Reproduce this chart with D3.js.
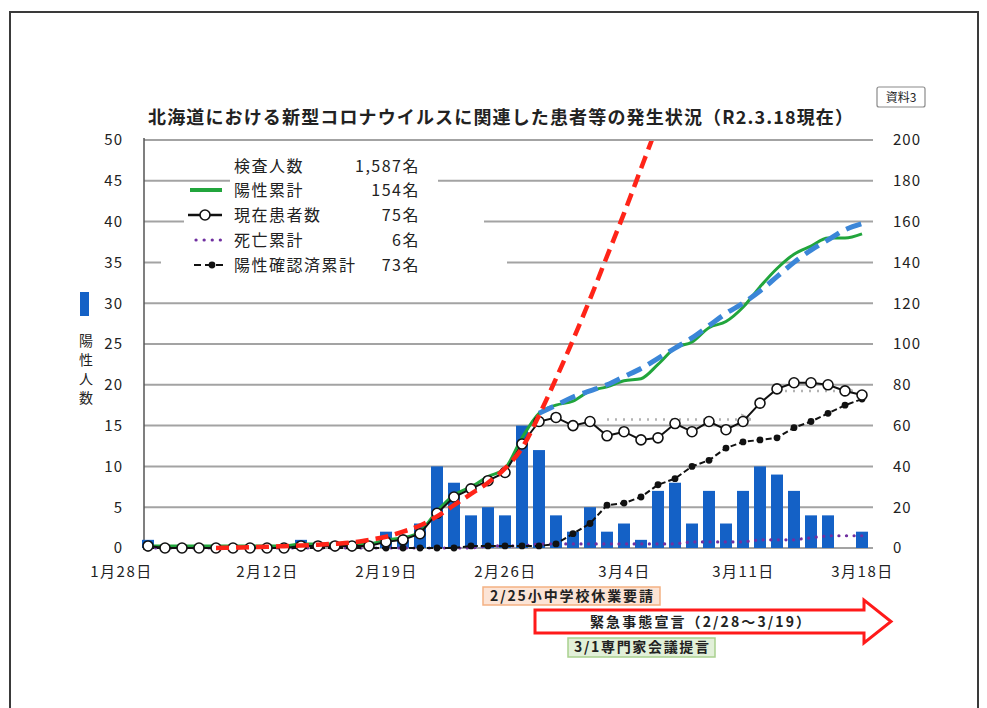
<!DOCTYPE html>
<html><head><meta charset="utf-8">
<script src="https://cdn.jsdelivr.net/npm/d3@7"></script>
<style>
html,body{margin:0;padding:0;background:#fff;}
svg{display:block;font-family:"Noto Sans CJK JP","Noto Sans",sans-serif;}
</style></head><body>
<svg id="c" width="987" height="708"></svg>
<script>
// ---------- data ----------
const dates = ["1/28","2/6","2/7","2/8","2/9","2/10","2/11","2/12","2/13","2/14","2/15","2/16","2/17","2/18",
  "2/19","2/20","2/21","2/22","2/23","2/24","2/25","2/26","2/27","2/28","2/29",
  "3/1","3/2","3/3","3/4","3/5","3/6","3/7","3/8","3/9","3/10","3/11","3/12","3/13","3/14","3/15","3/16","3/17","3/18"];
const tickDates  = ["1/28","2/12","2/19","2/26","3/4","3/11","3/18"];
const tickLabels = ["1月28日","2月12日","2月19日","2月26日","3月4日","3月11日","3月18日"];
// daily new positives (left axis)
const newCases = [1,0,0,0,0,0,0,0,0,1,0,0,0,0, 2,1,3,10,8,4,5, 4,15,12,4,2,5,2, 3,1,7,8,3,7,3, 7,10,9,7,4,4,0,2];
// cumulative positives (right axis)
const cumPositive = [1,1,1,1,1,1,1,1,1,2,2,2,2,2, 4,5,8,18,26,30,35, 39,54,66,70,72,77,79, 82,83,90,98,101,108,111, 118,128,137,144,148,152,152,154];
// current patients (right axis)
const currentPatients = [1,0,0,0,0,0,0,0,0,1,1,1,1,1, 3,4,7,17,25,29,33, 37,51,62,64,60,62,55, 57,53,54,61,57,62,58, 62,71,78,81,81,80,77,75];
// cumulative deaths (right axis)
const deathsCum = [0,0,0,0,0,0,0,0,0,0,0,0,0,0, 0,0,0,0,0,0,1, 1,1,2,2,2,2,2, 2,2,2,2,3,3,3, 3,4,4,4,5,6,6,6];
// cumulative confirmed negative (right axis)
const negConfirmedCum = [0,0,0,0,0,0,0,0,0,0,0,0,0,0, 0,0,0,0,0,1,1, 1,1,1,2,7,12,21, 22,25,31,34,40,43,49, 52,53,54,59,62,66,70,73];
// trend lines (right axis)
const trendRed = [null,null,null,null,0,0.2,0.4,0.6,0.9,1.2,1.6,2.1,2.7,4, 5.5,8,11,15.5,21,26.5,32, 39,49,65,83,102,122,143, 164,186,208,null,null,null,null, null,null,null,null,null,null,null,null];
const trendBlue = [null,null,null,null,null,null,null,null,null,null,null,null,null,null, null,null,null,null,null,null,null, null,null,66,70,74,77,80, 84,88,93,98,103,109,115, 120,126,133,140,146,151,156,159];
const ghostA = [null,null,null,null,null,null,null,null,null,null,null,null,null,null, null,null,null,null,null,null,null, null,null,null,null,null,null,63, 63,63,63,63,63,63,63, 63,null,null,null,null,null,null,null];
const ghostB = [null,null,null,null,null,null,null,null,null,null,null,null,null,null, null,null,null,null,null,null,null, null,null,null,null,null,null,null, null,null,null,null,null,null,null, null,null,77,77,77,77,77,null];
const leftTicks  = [0,5,10,15,20,25,30,35,40,45,50];
const rightTicks = [0,20,40,60,80,100,120,140,160,180,200];
const legendNames  = ["検査人数","陽性累計","現在患者数","死亡累計","陽性確認済累計"];
const legendValues = ["1,587名","154名","75名","6名","73名"];
const titleText = "北海道における新型コロナウイルスに関連した患者等の発生状況（R2.3.18現在）";
const noteSchool = "2/25小中学校休業要請";
const noteEmergency = "緊急事態宣言（2/28～3/19）";
const noteExperts = "3/1専門家会議提言";

// ---------- setup ----------
const svg = d3.select("#c");
const W = 987, H = 708;
const X0 = 148, X1 = 862, YT = 140, YB = 548;
const x = d3.scalePoint().domain(dates).range([X0, X1]);
const yL = d3.scaleLinear().domain([0, 50]).range([YB, YT]);
const yR = d3.scaleLinear().domain([0, 200]).range([YB, YT]);

const C = {
  bar: "#1461c6", green: "#21a53c", blue: "#3b86d8", red: "#ff2418",
  purple: "#7030a0", grid: "#a3a3a3", text: "#222"
};

// outer frame
svg.append("rect").attr("x", 10).attr("y", 12).attr("width", 968).attr("height", 730)
  .attr("fill", "none").attr("stroke", "#3a3a3a").attr("stroke-width", 2);

// 資料3 box
svg.append("rect").attr("x", 877).attr("y", 87).attr("width", 48).attr("height", 20).attr("rx", 2)
  .attr("fill", "#fff").attr("stroke", "#8a8a8a").attr("stroke-width", 1.2);
svg.append("text").attr("x", 901).attr("y", 102).attr("text-anchor", "middle")
  .attr("font-size", 12).attr("fill", C.text).text("資料3");

// title
svg.append("text").attr("x", 148).attr("y", 124).attr("font-size", 18).attr("font-weight", "bold")
  .attr("fill", C.text).attr("textLength", 705).attr("lengthAdjust", "spacing").text(titleText);

// gridlines
svg.append("g").selectAll("line").data(leftTicks).join("line")
  .attr("x1", 144).attr("x2", 873)
  .attr("y1", d => yL(d)).attr("y2", d => yL(d))
  .attr("stroke", C.grid).attr("stroke-width", 2);

// left axis line
svg.append("line").attr("x1", 144).attr("x2", 144).attr("y1", YT - 2).attr("y2", YB + 2)
  .attr("stroke", "#555").attr("stroke-width", 1.5);

// axes labels
const axL = svg.append("g").attr("transform", "translate(123,0)")
  .call(d3.axisLeft(yL).tickValues(leftTicks).tickSize(0).tickPadding(0));
const axR = svg.append("g").attr("transform", "translate(893,0)")
  .call(d3.axisRight(yR).tickValues(rightTicks).tickSize(0).tickPadding(0));
const axB = svg.append("g").attr("transform", "translate(0,566)")
  .call(d3.axisBottom(x).tickValues(tickDates).tickSize(0).tickPadding(0)
    .tickFormat(d => tickLabels[tickDates.indexOf(d)]));
[axL, axR, axB].forEach(a => {
  a.select(".domain").remove();
  a.selectAll("text").attr("font-family", '"Noto Sans CJK JP",sans-serif')
    .attr("fill", C.text).attr("font-size", 15).style("letter-spacing", "1px");
});
axB.selectAll("text").style("letter-spacing", "1.5px");
axB.selectAll(".tick").filter(d => d === "1/28").select("text").attr("dx", -27);

// legend background (white) – staggered like the original
const lg = svg.append("g");
[[230,152,208,47],[184,199,254,31],[161,230,277,46]].forEach(r =>
  lg.append("rect").attr("x", r[0]).attr("y", r[1]).attr("width", r[2] - (r[0]-230)).attr("height", r[3]).attr("fill", "#fff"));

// bars
svg.append("g").selectAll("rect").data(newCases).join("rect")
  .attr("x", (d, i) => x(dates[i]) - 6).attr("width", 12)
  .attr("y", d => yL(d)).attr("height", d => YB - yL(d))
  .attr("fill", C.bar);

// clip for lines
svg.append("clipPath").attr("id", "pc").append("rect")
  .attr("x", 130).attr("y", YT + 1).attr("width", 760).attr("height", YB - YT + 20);
const plot = svg.append("g").attr("clip-path", "url(#pc)");

const mkLine = (curve) => d3.line().defined(d => d.v != null)
  .x(d => x(dates[d.i])).y(d => yR(d.v)).curve(curve || d3.curveLinear);
const pts = arr => arr.map((v, i) => ({ i, v }));

// ghost dotted lines with faint arrows
const defs = svg.append("defs");
defs.append("marker").attr("id", "garr").attr("viewBox", "0 0 10 10").attr("refX", 2).attr("refY", 5)
  .attr("markerWidth", 4).attr("markerHeight", 5).attr("orient", "auto")
  .append("path").attr("d", "M0,0 L10,5 L0,10").attr("fill", "none").attr("stroke", "#b0b0b0").attr("stroke-width", 2);
[ghostA, ghostB].forEach(g => {
  plot.append("path").attr("d", mkLine()(pts(g))).attr("fill", "none")
    .attr("stroke", "#b3b3b3").attr("stroke-width", 2.5).attr("stroke-dasharray", "2,6")
    .attr("marker-end", "url(#garr)");
});

// deaths (purple dotted)
plot.append("path").attr("d", mkLine()(pts(deathsCum))).attr("fill", "none")
  .attr("stroke", C.purple).attr("stroke-width", 3.2).attr("stroke-linecap", "round")
  .attr("stroke-dasharray", "0.1,7.5");

// negative confirmed (black dashed w/ dots)
plot.append("path").attr("d", mkLine()(pts(negConfirmedCum))).attr("fill", "none")
  .attr("stroke", "#111").attr("stroke-width", 2).attr("stroke-dasharray", "6,3");
plot.append("g").selectAll("circle").data(pts(negConfirmedCum)).join("circle")
  .attr("cx", d => x(dates[d.i])).attr("cy", d => yR(d.v)).attr("r", 3.4).attr("fill", "#111");

// cumulative positives (green)
plot.append("path").attr("d", mkLine(d3.curveMonotoneX)(pts(cumPositive))).attr("fill", "none")
  .attr("stroke", C.green).attr("stroke-width", 3);

// blue dashed trend
plot.append("path").attr("d", mkLine(d3.curveMonotoneX)(pts(trendBlue))).attr("fill", "none")
  .attr("stroke", C.blue).attr("stroke-width", 5).attr("stroke-dasharray", "16,8");

// current patients (black line + open circles)
plot.append("path").attr("d", mkLine()(pts(currentPatients))).attr("fill", "none")
  .attr("stroke", "#111").attr("stroke-width", 2);
plot.append("g").selectAll("circle").data(pts(currentPatients)).join("circle")
  .attr("cx", d => x(dates[d.i])).attr("cy", d => yR(d.v)).attr("r", 5)
  .attr("fill", "#fff").attr("stroke", "#111").attr("stroke-width", 1.6);

// red dashed trend
plot.append("path").attr("d", mkLine(d3.curveMonotoneX)(pts(trendRed))).attr("fill", "none")
  .attr("stroke", C.red).attr("stroke-width", 4.5).attr("stroke-dasharray", "13,7");

// legend entries
const rowY = [166, 190, 215, 240, 265];
legendNames.forEach((n, k) => {
  lg.append("text").attr("x", 234).attr("y", rowY[k] + 6).attr("font-size", 16)
    .style("letter-spacing", "1.5px").attr("fill", C.text).text(n);
  lg.append("text").attr("x", 420).attr("y", rowY[k] + 6).attr("font-size", 16).attr("text-anchor", "end")
    .style("letter-spacing", "1.5px").attr("fill", C.text).text(legendValues[k]);
});
lg.append("line").attr("x1", 190).attr("x2", 222).attr("y1", rowY[1]).attr("y2", rowY[1])
  .attr("stroke", C.green).attr("stroke-width", 4);
lg.append("line").attr("x1", 188).attr("x2", 222).attr("y1", rowY[2]).attr("y2", rowY[2])
  .attr("stroke", "#111").attr("stroke-width", 2.5);
lg.append("circle").attr("cx", 205).attr("cy", rowY[2]).attr("r", 5)
  .attr("fill", "#fff").attr("stroke", "#111").attr("stroke-width", 1.6);
lg.append("line").attr("x1", 196).attr("x2", 222).attr("y1", rowY[3]).attr("y2", rowY[3])
  .attr("stroke", C.purple).attr("stroke-width", 3.2).attr("stroke-linecap", "round").attr("stroke-dasharray", "0.1,8");
lg.append("line").attr("x1", 194).attr("x2", 227).attr("y1", rowY[4]).attr("y2", rowY[4])
  .attr("stroke", "#111").attr("stroke-width", 2).attr("stroke-dasharray", "7,4");
lg.append("circle").attr("cx", 212).attr("cy", rowY[4]).attr("r", 3.4).attr("fill", "#111");

// left legend indicator
svg.append("rect").attr("x", 80).attr("y", 292).attr("width", 9).attr("height", 24).attr("fill", C.bar);
["陽","性","人","数"].forEach((ch, k) =>
  svg.append("text").attr("x", 86).attr("y", 346 + k * 19).attr("text-anchor", "middle")
    .attr("font-size", 14).attr("fill", C.text).text(ch));

// annotations
const an = svg.append("g").attr("font-weight", "bold").attr("fill", C.text);
an.append("rect").attr("x", 483).attr("y", 587).attr("width", 177).attr("height", 18)
  .attr("fill", "#fce4d6").attr("stroke", "#f4b183").attr("stroke-width", 1.5);
an.append("text").attr("x", 490).attr("y", 601).attr("font-size", 14)
  .attr("textLength", 163).attr("lengthAdjust", "spacing").text(noteSchool);
an.append("path").attr("d", "M535,610 L864,610 L864,600 L891,621.5 L864,643 L864,633 L535,633 Z")
  .attr("fill", "#fff").attr("stroke", "#ff1a1a").attr("stroke-width", 3).attr("stroke-linejoin", "miter");
an.append("text").attr("x", 590).attr("y", 627).attr("font-size", 14)
  .attr("textLength", 220).attr("lengthAdjust", "spacing").text(noteEmergency);
an.append("rect").attr("x", 568).attr("y", 638).attr("width", 147).attr("height", 19)
  .attr("fill", "#e2f0d9").attr("stroke", "#a9d18e").attr("stroke-width", 1.5);
an.append("text").attr("x", 574).attr("y", 652).attr("font-size", 14)
  .attr("textLength", 135).attr("lengthAdjust", "spacing").text(noteExperts);
</script>
</body></html>
